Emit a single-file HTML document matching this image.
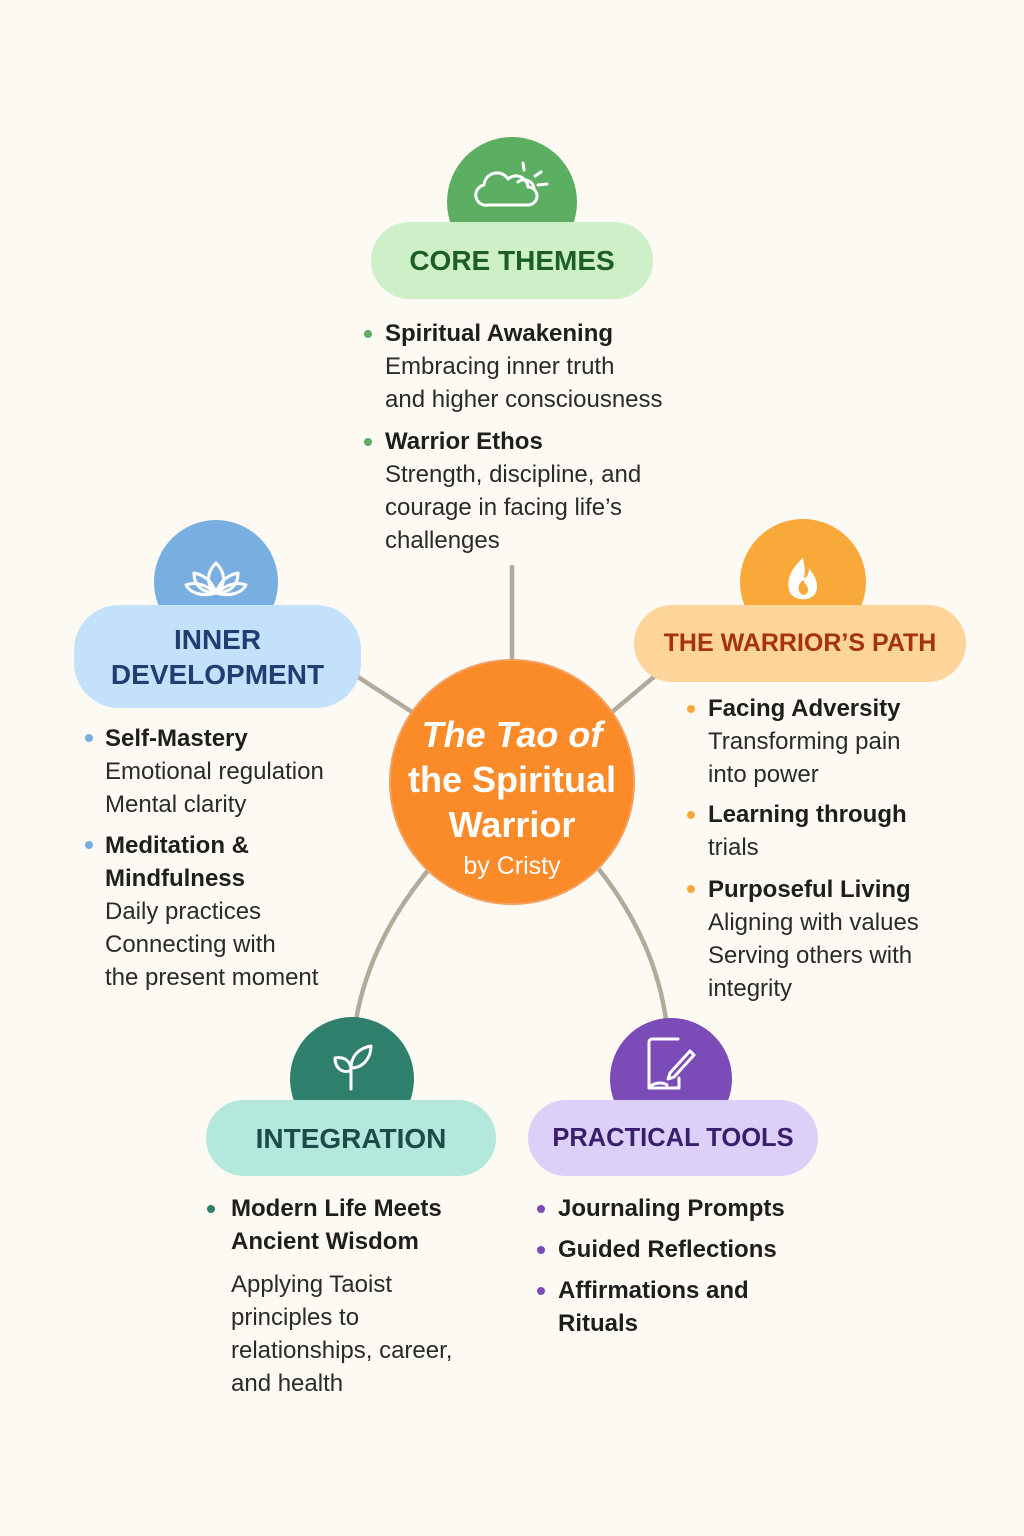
<!DOCTYPE html>
<html><head><meta charset="utf-8"><style>
body{margin:0;background:#fdfaf3;}
#c{position:relative;width:1024px;height:1536px;overflow:hidden;font-family:"Liberation Sans",sans-serif;color:#222;}
svg{position:absolute;left:0;top:0}
.t{position:absolute;font-size:24px;line-height:33px;white-space:nowrap;color:#2a2a2a}
.t b{color:#1e1e1e}
.d{position:absolute;width:8px;height:8px;border-radius:50%}
.h{position:absolute;text-align:center;font-weight:bold;font-size:28px;line-height:35px}
</style></head><body><div id="c">
<svg width="1024" height="1536" viewBox="0 0 1024 1536">
<g stroke="#b2aa9b" stroke-width="4.5" fill="none" stroke-linecap="round">
<line x1="512" y1="567" x2="512" y2="662"/>
<line x1="358" y1="677" x2="412" y2="712"/>
<line x1="612" y1="712" x2="655" y2="676"/>
<path d="M430 868 Q370 940 356 1020"/>
<path d="M598 868 Q655 940 666 1020"/>
</g>
<circle cx="512" cy="202" r="65" fill="#5cae62"/>
<rect x="371" y="222" width="282" height="77" rx="38.5" fill="#cdf0c9"/>
<circle cx="216" cy="582" r="62" fill="#78afe0"/>
<rect x="74" y="605" width="287" height="103" rx="45" fill="#c4e1fb"/>
<circle cx="803" cy="582" r="63" fill="#f9a93a"/>
<rect x="634" y="605" width="332" height="77" rx="38.5" fill="#fdd49a"/>
<circle cx="352" cy="1079" r="62" fill="#2e7f6c"/>
<rect x="206" y="1100" width="290" height="76" rx="38" fill="#b5e8dc"/>
<circle cx="671" cy="1079" r="61" fill="#7b4bb8"/>
<rect x="528" y="1100" width="290" height="76" rx="38" fill="#ddd0f8"/>
<circle cx="512" cy="782" r="122" fill="#fb8a28" stroke="#f3a060" stroke-width="2"/>
<g stroke="#fff" stroke-width="3" fill="none" stroke-linecap="round" stroke-linejoin="round">
<path d="M488 205 h40 a9 9 0 0 0 0 -18 a12 12 0 0 0 -20 -8 a13 13 0 0 0 -24 6 a10 10 0 0 0 4 20z"/>
<path d="M518 182 a10 10 0 0 1 16 6"/><line x1="523" y1="163" x2="524" y2="170"/><line x1="535" y1="176" x2="541" y2="172"/><line x1="538" y1="185" x2="547" y2="184"/>
<path d="M216 593 c-10 -8 -10 -20 0 -30 c10 10 10 22 0 30z"/>
<path d="M216 593 c-14 0 -22 -8 -22 -20 c10 2 18 8 22 20z"/>
<path d="M216 593 c14 0 22 -8 22 -20 c-10 2 -18 8 -22 20z"/>
<path d="M216 593 c-14 4 -26 0 -30 -8 c10 -4 20 0 30 8z"/>
<path d="M216 593 c14 4 26 0 30 -8 c-10 -4 -20 0 -30 8z"/>
<path d="M351 1089 v-20 M351 1070 c-6 4 -16 0 -16 -12 c10 -2 16 4 16 12z M351 1068 c0 -12 8 -20 20 -22 c0 12 -8 22 -20 22z"/>
<path d="M678 1039 h-26 a3 3 0 0 0 -3 3 v46 h30 v-10 M649 1088 c4 -6 14 -6 18 -3"/>
<path d="M694 1055 l-20 22 l-6 2 l2 -6 l20 -22z"/>
</g>
<path d="M803 558 c-14 12 -18 26 -12 36 c4 6 18 8 24 0 c6 -10 -2 -20 -6 -26 c0 6 -2 10 -5 10 c2 -8 0 -14 -1 -20z" fill="#fff"/>
<path d="M803 580 c-5 4 -6 10 -2 14 c3 2 7 0 7 -4 c0 -4 -3 -6 -5 -10z" fill="#f9a93a"/>
</svg>
<div class="h" style="left:371px;top:243px;width:282px;color:#1c5e26">CORE THEMES</div>
<div class="h" style="left:74px;top:622px;width:287px;color:#1f3f73">INNER<br>DEVELOPMENT</div>
<div class="h" style="left:634px;top:626px;width:332px;color:#a5330f;font-size:25px">THE WARRIOR’S PATH</div>
<div class="h" style="left:206px;top:1121px;width:290px;color:#1b4c4b">INTEGRATION</div>
<div class="h" style="left:528px;top:1121px;width:290px;color:#3a1e6b;font-size:25.5px">PRACTICAL TOOLS</div>
<div style="position:absolute;left:390px;top:712px;width:244px;text-align:center;color:#fff;font-size:36px;line-height:45px;font-weight:bold"><i>The Tao of</i><br>the Spiritual<br>Warrior<div style="font-size:25px;font-weight:normal;line-height:38px">by Cristy</div></div>

<div class="d" style="left:364px;top:330px;background:#5cae62"></div>
<div class="d" style="left:364px;top:438px;background:#5cae62"></div>
<div class="t" style="left:385px;top:317px"><b>Spiritual Awakening</b><br>Embracing inner truth<br>and higher consciousness</div>
<div class="t" style="left:385px;top:425px"><b>Warrior Ethos</b><br>Strength, discipline, and<br>courage in facing life’s<br>challenges</div>

<div class="d" style="left:85px;top:734px;background:#78afe0"></div>
<div class="d" style="left:85px;top:841px;background:#78afe0"></div>
<div class="t" style="left:105px;top:722px"><b>Self-Mastery</b><br>Emotional regulation<br>Mental clarity</div>
<div class="t" style="left:105px;top:829px"><b>Meditation &amp;<br>Mindfulness</b><br>Daily practices<br>Connecting with<br>the present moment</div>

<div class="d" style="left:687px;top:705px;background:#f9a93a"></div>
<div class="d" style="left:687px;top:811px;background:#f9a93a"></div>
<div class="d" style="left:687px;top:885px;background:#f9a93a"></div>
<div class="t" style="left:708px;top:692px"><b>Facing Adversity</b><br>Transforming pain<br>into power</div>
<div class="t" style="left:708px;top:798px"><b>Learning through</b><br>trials</div>
<div class="t" style="left:708px;top:873px"><b>Purposeful Living</b><br>Aligning with values<br>Serving others with<br>integrity</div>

<div class="d" style="left:207px;top:1205px;background:#2e7f6c"></div>
<div class="t" style="left:231px;top:1192px"><b>Modern Life Meets<br>Ancient Wisdom</b></div>
<div class="t" style="left:231px;top:1268px">Applying Taoist<br>principles to<br>relationships, career,<br>and health</div>

<div class="d" style="left:537px;top:1205px;background:#7b4bb8"></div>
<div class="d" style="left:537px;top:1246px;background:#7b4bb8"></div>
<div class="d" style="left:537px;top:1287px;background:#7b4bb8"></div>
<div class="t" style="left:558px;top:1192px"><b>Journaling Prompts</b></div>
<div class="t" style="left:558px;top:1233px"><b>Guided Reflections</b></div>
<div class="t" style="left:558px;top:1274px"><b>Affirmations and<br>Rituals</b></div>
</div></body></html>
